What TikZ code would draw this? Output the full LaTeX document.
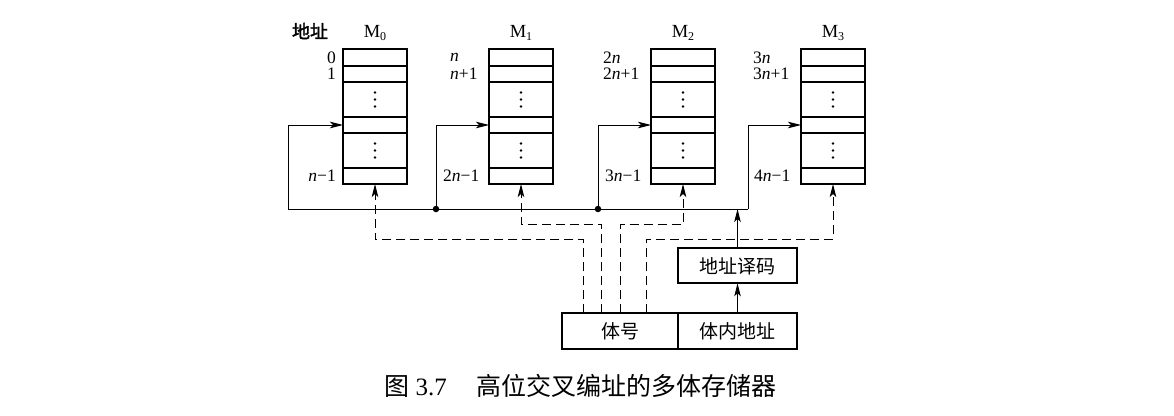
\documentclass[tikz,border=0pt]{standalone}
\usepackage{fontspec}
\setmainfont{Liberation Serif}
\newfontfamily\cjk{Noto Sans CJK SC}
\newfontfamily\cjkb[FakeBold=2]{Noto Sans CJK SC}
\usetikzlibrary{arrows.meta}
\newcommand\mybank[2]{%
  \node[cell, minimum height=17pt, anchor=north west] (#1a) at (#2,49) {};
  \node[cell, minimum height=16pt, anchor=north] (#1b) at (#1a.south) {};
  \node[cell, minimum height=35pt, anchor=north] (#1c) at (#1b.south) {};
  \node[cell, minimum height=16pt, anchor=north] (#1d) at (#1c.south) {};
  \node[cell, minimum height=35pt, anchor=north] (#1e) at (#1d.south) {};
  \node[cell, minimum height=16pt, anchor=north] (#1f) at (#1e.south) {};
  \foreach \dd in {-7,0,7} {
    \fill ([yshift=\dd pt]#1c.center) circle (1.3pt);
    \fill ([yshift=\dd pt]#1e.center) circle (1.3pt);
  }%
}
\begin{document}
\begin{tikzpicture}[x=1pt,y=-1pt,
  cell/.style={draw, line width=1.8pt, minimum width=64pt, inner sep=0pt, outer sep=0pt},
  conn/.style={line width=0.95pt},
  dconn/.style={line width=0.95pt, dash pattern=on 9pt off 5pt},
  tip/.style={-{Stealth[length=13pt,width=6.5pt,inset=3pt]}},
  addr/.style={font=\fontsize{17.5}{17.5}\selectfont, inner sep=0pt},
  mlab/.style={font=\fontsize{18.5}{18.5}\selectfont, inner sep=0pt},
  cbox/.style={draw, line width=1.8pt, inner sep=0pt, outer sep=0pt, minimum height=35.5pt, font=\cjk\fontsize{19}{19}\selectfont},
  dot/.style={circle, fill, inner sep=0pt, minimum size=6.5pt}
]
\useasboundingbox (0,0) rectangle (1174,415);

\mybank{m0}{343}
\mybank{m1}{489}
\mybank{m2}{651}
\mybank{m3}{801}

% titles
\node[font=\cjkb\fontsize{18}{18}\selectfont, inner sep=0pt] (dizhi) at (310,31) {地址};
\newcommand\Mlab[1]{M\raisebox{-0.3ex}{\fontsize{12}{12}\selectfont #1}}
\node[mlab] (t0) at (375,33) {\Mlab{0}};
\node[mlab] (t1) at (521,33) {\Mlab{1}};
\node[mlab] (t2) at (683,33) {\Mlab{2}};
\node[mlab] (t3) at (833,33) {\Mlab{3}};

% address labels
\node[addr, anchor=east] (a00) at (336,57.5) {0};
\node[addr, anchor=east] (a01) at (336,74) {1};
\node[addr, anchor=east] (a02) at (336,176) {\textit{n}−1};
\node[addr, anchor=west] (a10) at (450,57.5) {\textit{n}};
\node[addr, anchor=west] (a11) at (450,74) {\textit{n}+1};
\node[addr, anchor=west] (a12) at (443,176) {2\textit{n}−1};
\node[addr, anchor=west] (a20) at (603,57.5) {2\textit{n}};
\node[addr, anchor=west] (a21) at (603,74) {2\textit{n}+1};
\node[addr, anchor=west] (a22) at (605,176) {3\textit{n}−1};
\node[addr, anchor=west] (a30) at (753,57.5) {3\textit{n}};
\node[addr, anchor=west] (a31) at (753,74) {3\textit{n}+1};
\node[addr, anchor=west] (a32) at (754,176) {4\textit{n}−1};

% bus
\coordinate (b0) at (288,209);
\node[dot] (j1) at (436,209) {};
\node[dot] (j2) at (598,209) {};
\coordinate (b3) at (748,209);
\draw[conn] (b0) -- (b3);
\draw[conn,tip] (b0) |- (m0d.west);
\draw[conn,tip] (j1.center) |- (m1d.west);
\draw[conn,tip] (j2.center) |- (m2d.west);
\draw[conn,tip] (b3) |- (m3d.west);

% lower boxes
\node[cbox, minimum width=116.6pt, anchor=north west] (tihao) at (561.7,313.3) {体号};
\node[cbox, minimum width=118.4pt, anchor=north west] (tnaddr) at (tihao.north east) {体内地址};
\node[cbox, minimum width=118.4pt, minimum height=35pt, anchor=south] (dec) at ([yshift=30pt]tnaddr.north) {地址译码};
\coordinate (bhit) at (dec.north |- b0);
\draw[conn,tip] (tnaddr.north) -- (dec.south);
\draw[conn,tip] (dec.north) -- (bhit);

% dashed select lines
\coordinate (s0) at (583.3,313.3);
\coordinate (s1) at (601.7,313.3);
\coordinate (s2) at (620.7,313.3);
\coordinate (s3) at (646,313.3);
\draw[dconn,tip] (s0) -- (583.3,239.3) -| (m0f.south);
\draw[dconn,tip] (s1) -- (601.7,224.3) -| (m1f.south);
\draw[dconn,tip] (s2) -- (620.7,224.3) -| (m2f.south);
\draw[dconn,tip] (s3) -- (646,239.3) -| (m3f.south);

% caption
\node[inner sep=0pt, font=\fontsize{25}{25}\selectfont] (cap) at (580.5,386) {{\cjk 图} 3.7\hspace{1.2em}{\cjk 高位交叉编址的多体存储器}};
\end{tikzpicture}
\end{document}
